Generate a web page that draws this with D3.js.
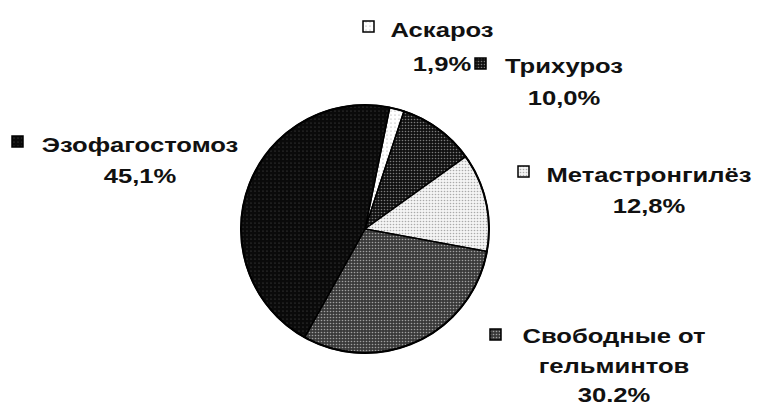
<!DOCTYPE html>
<html>
<head>
<meta charset="utf-8">
<title>Pie</title>
<style>
  body { margin: 0; background: #fff; }
  text { font-family: "Liberation Sans", Arial, sans-serif; font-weight: bold; font-size: 21px; fill: #111; }
</style>
</head>
<body>

<div id="my_dataviz"></div>

<script src="https://d3js.org/d3.v7.min.js"></script>
<script>

    // data, in drawing order (clockwise)
    var names = ["Аскароз", "Трихуроз", "Метастронгилёз", "Свободные от гельминтов", "Эзофагостомоз"];
    var values = [1.9, 10.0, 12.8, 30.2, 45.1];
    var pctLabels = ["1,9%", "10,0%", "12,8%", "30.2%", "45,1%"];

    // label text lines
    var nameLines = [["Аскароз"], ["Трихуроз"], ["Метастронгилёз"], ["Свободные от", "гельминтов"], ["Эзофагостомоз"]];

    // where each label sits: centre x of the text, first baseline, line step, legend square
    var labelPos = [
      {x: 442, y: 37,  step: 34, sx: 363, sy: 21},
      {x: 564, y: 73,  step: 32, sx: 475, sy: 58},
      {x: 649, y: 182, step: 31, sx: 518, sy: 166},
      {x: 614, y: 343, step: 29.5, sx: 490, sy: 329},
      {x: 140, y: 152, step: 31, sx: 12,  sy: 136}
    ];

    var width = 761, height = 405;
    var cx = 365, cy = 229, radius = 124;
    var stretch = 1.22;

    var svg = d3.select("#my_dataviz")
      .append("svg")
        .attr("width", width)
        .attr("height", height);

    // fill patterns
    var defs = svg.append("defs");
    var pats = [
      {id: "p0", bg: "#fff", dot: "#999", size: 4, r: 0.6},
      {id: "p1", bg: "#111", dot: "#7a7a7a", size: 3, r: 0.8},
      {id: "p2", bg: "#f4f4f4", dot: "#aaa", size: 3, r: 0.8},
      {id: "p3", bg: "#3a3a3a", dot: "#a0a0a0", size: 3, r: 0.8},
      {id: "p4", bg: "#0a0a0a", dot: "#555", size: 4, r: 0.6}
    ];
    pats.forEach(function(p) {
      var pat = defs.append("pattern")
        .attr("id", p.id)
        .attr("patternUnits", "userSpaceOnUse")
        .attr("width", p.size)
        .attr("height", p.size);
      pat.append("rect").attr("width", p.size).attr("height", p.size).attr("fill", p.bg);
      pat.append("circle").attr("cx", p.size / 2).attr("cy", p.size / 2).attr("r", p.r).attr("fill", p.dot);
    });

    // pie
    var start = 11.5 * Math.PI / 180;
    var pie = d3.pie().sort(null).startAngle(start).endAngle(start + 2 * Math.PI);
    var arc = d3.arc().innerRadius(0).outerRadius(radius);

    var g = svg.append("g").attr("transform", "translate(" + cx + "," + cy + ")");
    g.selectAll("path")
      .data(pie(values))
      .enter()
      .append("path")
        .attr("d", arc)
        .attr("fill", function(d, i) { return "url(#p" + i + ")"; })
        .attr("stroke", "#000")
        .attr("stroke-width", 1.5)
        .attr("stroke-linejoin", "round");

    g.append("circle")
      .attr("r", radius)
      .attr("fill", "none")
      .attr("stroke", "#000")
      .attr("stroke-width", 2);

    // labels with legend squares
    names.forEach(function(n, i) {
      var p = labelPos[i];
      svg.append("rect")
        .attr("x", p.sx).attr("y", p.sy)
        .attr("width", 11).attr("height", 11)
        .attr("fill", "url(#p" + i + ")")
        .attr("stroke", "#000")
        .attr("stroke-width", 1.5);

      var lines = nameLines[i].concat([pctLabels[i]]);
      lines.forEach(function(t, k) {
        svg.append("text")
          .attr("text-anchor", "middle")
          .attr("transform", "translate(" + p.x + "," + (p.y + k * p.step) + ") scale(" + stretch + ",1)")
          .text(t);
      });
    });

</script>

</body>
</html>
